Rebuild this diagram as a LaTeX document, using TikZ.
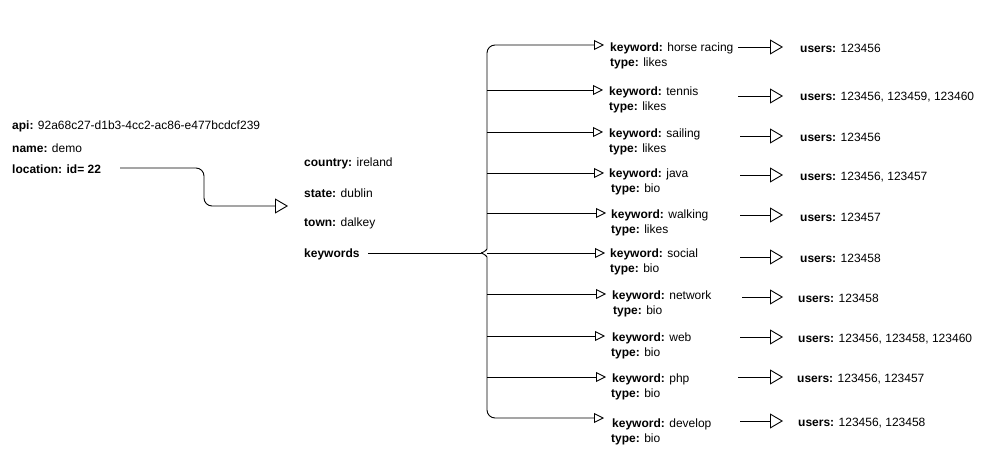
\documentclass[tikz,border=0pt]{standalone}
\usepackage{fontspec}
\setmainfont{Liberation Sans}
\usetikzlibrary{arrows.meta}
\begin{document}
\begin{tikzpicture}[x=1pt,y=-1pt,
  lbl/.style={inner sep=0pt, anchor=base west, yshift=-1.5pt, font=\fontsize{12}{14}\selectfont},
  conn/.style={line width=0.9pt},
  smallarr/.style={conn,-{Triangle[open,length=10pt,width=10pt,line width=0.9pt]}},
  bigarr/.style={conn,-{Triangle[open,length=13pt,width=15pt,line width=0.9pt]}}]
\useasboundingbox (0,0) rectangle (987,454);
% left block
\node[lbl] (api) at (12,128) {\textbf{api:} 92a68c27-d1b3-4cc2-ac86-e477bcdcf239};
\node[lbl] (name) at (12,151) {\textbf{name:} demo};
\node[lbl] (loc) at (12,172) {\textbf{location: id= 22}};
\coordinate (locstart) at (120,168);
\coordinate (locend) at (288,206);
\draw[bigarr, rounded corners=8pt] (locstart) -- (204,168) -- (204,206) -- (locend);
% middle block
\node[lbl] (country) at (304,165) {\textbf{country:} ireland};
\node[lbl] (state) at (304,196) {\textbf{state:} dublin};
\node[lbl] (town) at (304,225) {\textbf{town:} dalkey};
\node[lbl] (kws) at (304,256) {\textbf{keywords}};
\coordinate (kwstart) at (368,253);
\coordinate (tip) at (481,253);
\coordinate (trunk) at (487,0);
\draw[conn] (kwstart) -- (tip);
% keyword nodes
\node[lbl] (k1) at (610,50) {\textbf{keyword:} horse racing};
\node[lbl] (t1) at (610,65) {\textbf{type:} likes};
\node[lbl] (k2) at (609,94) {\textbf{keyword:} tennis};
\node[lbl] (t2) at (609,109) {\textbf{type:} likes};
\node[lbl] (k3) at (609,136) {\textbf{keyword:} sailing};
\node[lbl] (t3) at (609,151) {\textbf{type:} likes};
\node[lbl] (k4) at (609,176) {\textbf{keyword:} java};
\node[lbl] (t4) at (611,191) {\textbf{type:} bio};
\node[lbl] (k5) at (611,217) {\textbf{keyword:} walking};
\node[lbl] (t5) at (611,232) {\textbf{type:} likes};
\node[lbl] (k6) at (610,256) {\textbf{keyword:} social};
\node[lbl] (t6) at (610,271) {\textbf{type:} bio};
\node[lbl] (k7) at (612,298) {\textbf{keyword:} network};
\node[lbl] (t7) at (613,313) {\textbf{type:} bio};
\node[lbl] (k8) at (612,340) {\textbf{keyword:} web};
\node[lbl] (t8) at (611,355) {\textbf{type:} bio};
\node[lbl] (k9) at (612,381) {\textbf{keyword:} php};
\node[lbl] (t9) at (611,396) {\textbf{type:} bio};
\node[lbl] (k10) at (612,426) {\textbf{keyword:} develop};
\node[lbl] (t10) at (611,441) {\textbf{type:} bio};
% branch end points
\coordinate (b1) at (604,45);
\coordinate (b2) at (603,90);
\coordinate (b3) at (603,132);
\coordinate (b4) at (604,173);
\coordinate (b5) at (606,213);
\coordinate (b6) at (605,253);
\coordinate (b7) at (606,294);
\coordinate (b8) at (605,336);
\coordinate (b9) at (606,377);
\coordinate (b10) at (604,418);
% trunk with brace
\draw[smallarr, rounded corners=8pt] (tip) .. controls (485,252) and (487,249) .. (487,241) -- (trunk |- b1) -- (b1);
\draw[smallarr, rounded corners=8pt] (tip) .. controls (485,254) and (487,257) .. (487,265) -- (trunk |- b10) -- (b10);
\foreach \i in {2,3,4,5,6,7,8,9}{
  \draw[smallarr] (trunk |- b\i) -- (b\i);
}
% users nodes
\node[lbl] (u1) at (800,51) {\textbf{users:} 123456};
\node[lbl] (u2) at (800,99) {\textbf{users:} 123456, 123459, 123460};
\node[lbl] (u3) at (800,140) {\textbf{users:} 123456};
\node[lbl] (u4) at (800,179) {\textbf{users:} 123456, 123457};
\node[lbl] (u5) at (800,220) {\textbf{users:} 123457};
\node[lbl] (u6) at (800,261) {\textbf{users:} 123458};
\node[lbl] (u7) at (798,301) {\textbf{users:} 123458};
\node[lbl] (u8) at (798,341) {\textbf{users:} 123456, 123458, 123460};
\node[lbl] (u9) at (797,381) {\textbf{users:} 123456, 123457};
\node[lbl] (u10) at (798,425) {\textbf{users:} 123456, 123458};
% users arrows
\coordinate (s1) at (738,47);
\coordinate (s2) at (738,96);
\coordinate (s3) at (740,136);
\coordinate (s4) at (740,175);
\coordinate (s5) at (740,215);
\coordinate (s6) at (740,257);
\coordinate (s7) at (742,297);
\coordinate (s8) at (740,337);
\coordinate (s9) at (738,377);
\coordinate (s10) at (740,421);
\foreach \i in {1,...,10}{
  \draw[bigarr] (s\i) -- (783,0 |- s\i);
}
\end{tikzpicture}
\end{document}
